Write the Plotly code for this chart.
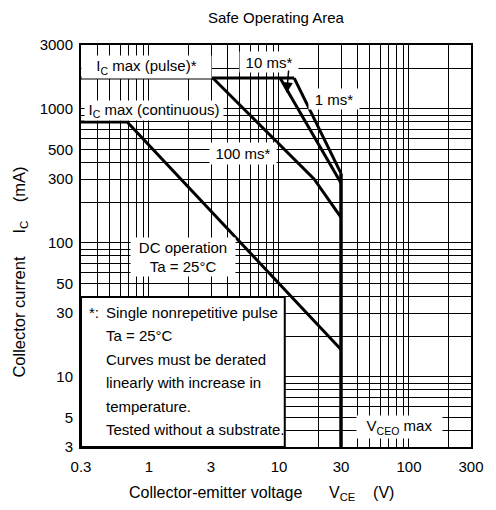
import plotly.graph_objects as go
import math

# ---------------- data (V, mA) ----------------
pulse_v = [0.3, 13.1]
pulse_i = [1700, 1700]

ms1_v = [13.1, 30]
ms1_i = [1700, 330]

ms10_v = [10.2, 30]
ms10_i = [1700, 280]

ms100_v = [3.1, 18.6, 30]
ms100_i = [1700, 300, 155]

dc_v = [0.3, 0.68, 30]
dc_i = [800, 800, 16]

vceo_v = [30, 30]
vceo_i = [330, 3]

x_grid = [0.3, 0.4, 0.5, 0.6, 0.7, 0.8, 0.9, 1, 2, 3, 4, 5, 6, 7, 8, 9,
          10, 20, 30, 40, 50, 60, 70, 80, 90, 100, 200, 300]
x_labels = {0.3: "0.3", 1: "1", 3: "3", 10: "10", 30: "30", 100: "100", 300: "300"}
y_grid = [3, 4, 5, 6, 7, 8, 9, 10, 20, 30, 40, 50, 60, 70, 80, 90,
          100, 200, 300, 400, 500, 600, 700, 800, 900, 1000, 2000, 3000]
y_labels = {3: "3", 5: "5", 10: "10", 30: "30", 50: "50", 100: "100",
            300: "300", 500: "500", 1000: "1000", 3000: "3000"}

# ---------------- layout helpers ----------------
W, H = 496, 510
PL, PT, PW, PH = 81, 45, 400, 402        # plot area in page pixels
L, T = PL, PT
R, B = W - L - PW, H - T - PH
FONT = "Liberation Sans, Arial, sans-serif"
NB = "\u00a0"


def px(x):
    return (x - PL) / PW


def py(y):
    return (PT + PH - y) / PH


fig = go.Figure()
for xs, ys in [(pulse_v, pulse_i), (ms1_v, ms1_i), (ms10_v, ms10_i),
               (ms100_v, ms100_i), (dc_v, dc_i)]:
    fig.add_trace(go.Scatter(x=xs, y=ys, mode="lines",
                             line=dict(color="black", width=3),
                             hoverinfo="skip", showlegend=False))
fig.add_trace(go.Scatter(x=vceo_v, y=vceo_i, mode="lines",
                         line=dict(color="black", width=3.5),
                         hoverinfo="skip", showlegend=False))

shapes = [dict(type="rect", xref="paper", yref="paper",
               x0=px(81), x1=px(290), y0=py(447), y1=py(297),
               fillcolor="white", line=dict(color="black", width=2),
               layer="above")]

annos = []


def boxlab(text, x0, y0, x1, y1, size=15):
    annos.append(dict(text=text, x=px((x0 + x1) / 2), y=py((y0 + y1) / 2),
                      xref="paper", yref="paper", showarrow=False,
                      xanchor="center", yanchor="middle",
                      width=x1 - x0, height=y1 - y0, borderpad=0,
                      bgcolor="white", align="center", valign="middle",
                      font=dict(family=FONT, size=size, color="black")))


def lab(text, x, y, size=15, xanchor="center"):
    annos.append(dict(text=text, x=px(x), y=py(y), xref="paper", yref="paper",
                      showarrow=False, xanchor=xanchor, yanchor="middle",
                      font=dict(family=FONT, size=size, color="black")))


boxlab("I<sub>C</sub> max (pulse)*", 84, 56, 213, 78)
boxlab("I<sub>C</sub> max (continuous)", 87, 101, 225, 120)
boxlab("100 ms*", 214, 143, 280, 164)
boxlab("10 ms*", 245, 52, 303, 72)
boxlab("1 ms*", 315, 89, 365, 109)
boxlab("DC operation<br>Ta = 25°C", 134, 238, 238, 276)
boxlab("V<sub>CEO</sub> max", 365, 416, 450, 438)

lab("*:", 87, 312, xanchor="left")
notes = ["Single nonrepetitive pulse", "Ta = 25°C", "Curves must be derated",
         "linearly with increase in", "temperature.", "Tested without a substrate."]
for k, t in enumerate(notes):
    lab(t, 105, 312 + k * 23.5, xanchor="left")

# arrow for 10 ms
annos.append(dict(text="", x=px(292), y=py(93), xref="paper", yref="paper",
                  showarrow=True, ax=2, ay=-24, arrowhead=2, arrowsize=1.4,
                  arrowwidth=1.5, arrowcolor="black"))

# titles
lab("Safe Operating Area", 281, 18)
lab("Collector-emitter voltage" + NB * 6 + "V<sub>CE</sub>" + NB * 4 + "(V)", 266, 493, size=16)
annos.append(dict(text="Collector current" + NB * 5 + "I<sub>C</sub>" + NB * 4 + "(mA)",
                  x=px(18), y=py(272), xref="paper", yref="paper", showarrow=False,
                  xanchor="center", yanchor="middle", textangle=-90,
                  font=dict(family=FONT, size=16.5, color="black")))

axis_common = dict(type="log", showgrid=True, gridcolor="black", gridwidth=1,
                   showline=True, linecolor="black", linewidth=2, mirror=True,
                   ticks="", zeroline=False,
                   tickfont=dict(family=FONT, size=15, color="black"))

fig.update_xaxes(range=[math.log10(0.3), math.log10(300)], tickmode="array",
                 tickvals=x_grid, ticktext=[x_labels.get(v, "") for v in x_grid],
                 ticklabelstandoff=5, **axis_common)
fig.update_yaxes(range=[math.log10(3), math.log10(3000)], tickmode="array",
                 tickvals=y_grid, ticktext=[y_labels.get(v, "") for v in y_grid],
                 ticklabelstandoff=3, **axis_common)

fig.update_layout(width=W, height=H, margin=dict(l=L, r=R, t=T, b=B),
                  plot_bgcolor="white", paper_bgcolor="white",
                  shapes=shapes, annotations=annos, showlegend=False,
                  font=dict(family=FONT, color="black"))

# remove the default page margin so the 496x510 figure fills the window exactly
fig.write_html("out.html", config={"displayModeBar": False, "staticPlot": True},
               post_script="document.body.style.margin='0';"
                           "document.body.style.overflow='hidden';")
